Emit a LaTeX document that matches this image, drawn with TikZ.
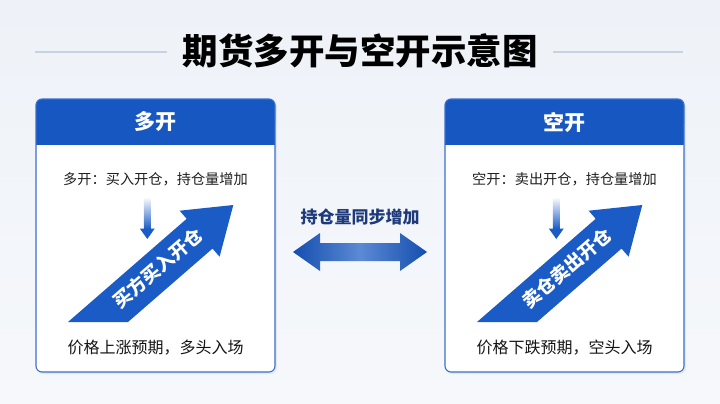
\documentclass[tikz,border=0pt]{standalone}
\usepackage{fontspec}
\setmainfont{Noto Sans CJK SC}
\usepackage{xcolor}
\usetikzlibrary{positioning}
\definecolor{bgtop}{HTML}{EEF2F8}
\definecolor{bgbot}{HTML}{F6F8FB}
\definecolor{hdrblue}{HTML}{1657C2}
\definecolor{arrblue}{HTML}{1A5BC6}
\definecolor{rulegray}{HTML}{C5D3E3}
\definecolor{navy}{HTML}{1E3A7A}

\begin{document}
\begin{tikzpicture}[x=1pt,y=-1pt,line width=0.4pt,
  titletxt/.style={font=\fontsize{35.5}{38}\bfseries, text=black},
  hdrtxt/.style={font=\fontsize{21}{24}\bfseries, text=white},
  toptxt/.style={font=\fontsize{14.2}{16}\selectfont, text=black!88},
  bottxt/.style={font=\fontsize{16}{18}\selectfont, text=black!92},
  bandtxt/.style={font=\fontsize{18.5}{20}\bfseries, text=white, rotate=41},
  synctxt/.style={font=\fontsize{17}{19}\bfseries, text=navy}]
  \useasboundingbox (0,0) rectangle (720,404);
  % Background
  \shade[top color=bgtop, bottom color=bgbot] (0,0) rectangle (720,404);
  % Title with side rules
  \node[titletxt] (title) at (360,51) {期货多开与空开示意图};
  \draw[rulegray, line width=1.8pt] (35,52) -- (167,52);
  \draw[rulegray, line width=1.8pt] (553,52) -- (683,52);
  % Two panels (left: long, right: short)
  \foreach \dx/\id/\name/\top/\band/\bot in {
      0/L/多开/多开：买入开仓，持仓量增加/买方买入开仓/价格上涨预期，多头入场,
      409/R/空开/空开：卖出开仓，持仓量增加/卖仓卖出开仓/价格下跌预期，空头入场} {
    \begin{scope}[shift={(\dx,0)}]
      % card with soft shadow
      \fill[black, opacity=0.06, rounded corners=6pt] (37,101) rectangle (277,374);
      \fill[white, rounded corners=6pt] (36,99) rectangle (275,372);
      \fill[hdrblue, rounded corners=6pt] (36,99) rectangle (275,130);
      \fill[hdrblue] (36,120) rectangle (275,145);
      \draw[hdrblue!85, line width=1.1pt, rounded corners=6pt] (36,99) rectangle (275,372);
      \node[hdrtxt] (head\id) at (155.5,122) {\name};
      \node[toptxt] (top\id) at (155.5,179) {\top};
      % small gradient arrow
      \shade[top color=white, bottom color=arrblue] (143.8,197) rectangle (150.8,229);
      \fill[arrblue] (139.8,228.5) -- (154.8,228.5) -- (147.3,239) -- cycle;
      % rising band arrow
      \fill[arrblue] (68,322) -- (128,322) -- (212.5,248.6) -- (219.6,256.7)
        -- (233.3,205) -- (179.6,210.7) -- (186.7,218.8) -- cycle;
      \node[bandtxt] (band\id) at (158,268) {\band};
      \node[bottxt] (bot\id) at (155.5,348) {\bot};
    \end{scope}}
  % Middle: both sides together
  \node[synctxt] (sync) at (360,217) {持仓量同步增加};
  \shade[left color=hdrblue!90!black, right color=hdrblue!90!black, middle color=hdrblue!70!white]
    (293,252) -- (320,233) -- (320,243) -- (400,243) -- (400,233) -- (427,252)
    -- (400,271) -- (400,261) -- (320,261) -- (320,271) -- cycle;
\end{tikzpicture}
\end{document}
